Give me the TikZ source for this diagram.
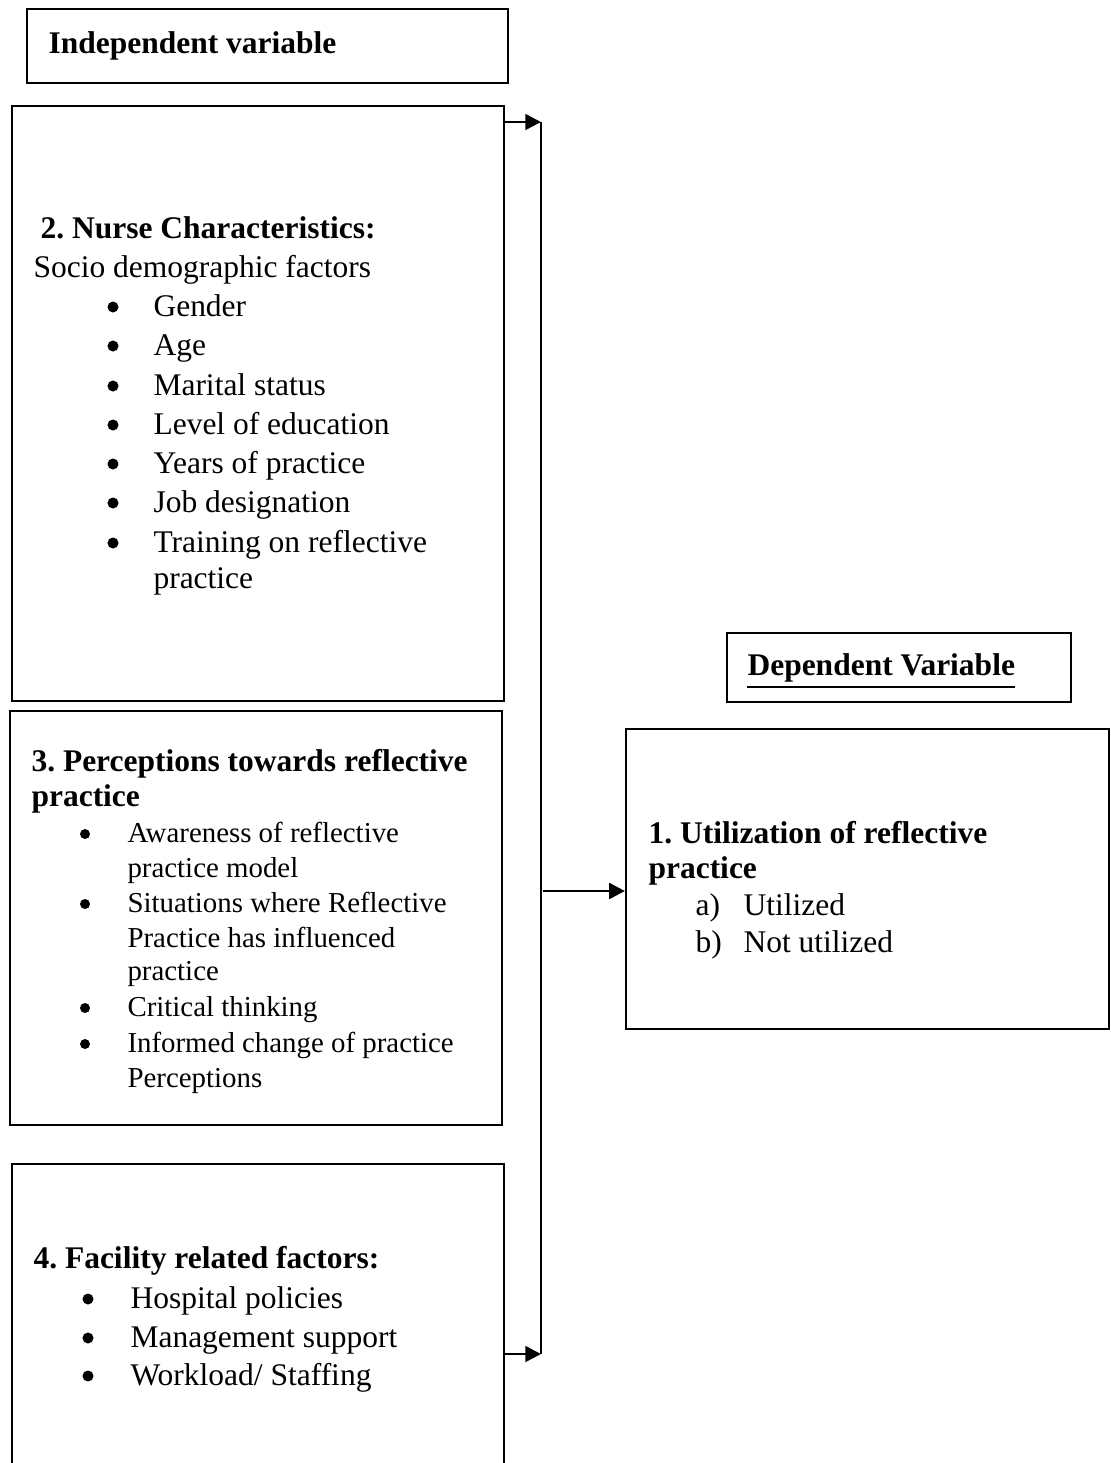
\documentclass[tikz,border=0pt]{standalone}
\usepackage{fontspec}
\setmainfont{Liberation Serif}
\usetikzlibrary{arrows.meta,fit}
\AtBeginDocument{\frenchspacing}
\begin{document}
\begin{tikzpicture}[x=0.381pt,y=-0.381pt,
  box/.style={draw=black,line width=0.8pt,rectangle,inner sep=0pt},
  txt/.style={anchor=base west,inner sep=0pt,font=\fontsize{12}{14}\selectfont},
  btxt/.style={anchor=base west,inner sep=0pt,font=\fontsize{12}{14}\selectfont\bfseries},
  stxt/.style={anchor=base west,inner sep=0pt,font=\fontsize{11}{13}\selectfont},
  bul/.style={circle,fill=black,inner sep=0pt,minimum size=4.2pt},
  sbul/.style={circle,fill=black,inner sep=0pt,minimum size=3.8pt},
  conn/.style={line width=1pt},
  arr/.style={conn,-{Triangle[length=6pt,width=6pt]}}]
\useasboundingbox (0,0) rectangle (1110,1463);
\clip (0,0) rectangle (1110,1463);

% boxes
\node[box,fit={(27,9) (508,83)}] (bind) {};
\node[box,fit={(12,106) (504,701)}] (b2) {};
\node[box,fit={(10,711) (502,1125)}] (b3) {};
\node[box,fit={(12,1164) (504,1490)}] (b4) {};
\node[box,fit={(727,633) (1071,702)}] (bdep) {};
\node[box,fit={(626,729) (1109,1029)}] (b1) {};

% independent label
\node[btxt] (tind) at (48,53) {Independent variable};

% box 2
\node[btxt] (n2h) at (40,238) {2. Nurse Characteristics:};
\node[txt] (n2s) at (33,277) {Socio demographic factors};
\foreach \y/\t [count=\i] in {316/Gender,355/Age,395/Marital status,434/Level of education,473/Years of practice,512/Job designation,552/Training on reflective}{
  \node[bul] (n2b\i) at (113,\y-9) {};
  \node[txt] (n2t\i) at (153,\y) {\t};
}
\node[txt] (n2t8) at (153,588) {practice};

% box 3
\node[btxt] (n3h) at (31,771) {3. Perceptions towards reflective};
\node[btxt] (n3h2) at (31,806) {practice};
\node[sbul] (n3b1) at (85,834) {};
\node[stxt] (n3t1) at (127,842) {Awareness of reflective};
\node[stxt] (n3t2) at (127,877) {practice model};
\node[sbul] (n3b2) at (85,904) {};
\node[stxt] (n3t3) at (127,912) {Situations where Reflective};
\node[stxt] (n3t4) at (127,947) {Practice has influenced};
\node[stxt] (n3t5) at (127,980) {practice};
\node[sbul] (n3b3) at (85,1008) {};
\node[stxt] (n3t6) at (127,1016) {Critical thinking};
\node[sbul] (n3b4) at (85,1044) {};
\node[stxt] (n3t7) at (127,1052) {Informed change of practice};
\node[stxt] (n3t8) at (127,1087) {Perceptions};

% box 4
\node[btxt] (n4h) at (33,1268) {4. Facility related factors:};
\foreach \y/\t [count=\i] in {1308/{Hospital policies},1347/{Management support},1385/{Workload/ Staffing}}{
  \node[bul] (n4b\i) at (88,\y-9) {};
  \node[txt] (n4t\i) at (130,\y) {\t};
}

% dependent label
\node[btxt] (tdep) at (747,675) {Dependent Variable};
\draw[line width=0.9pt] ([yshift=-4.5]tdep.base west) -- ([yshift=-4.5]tdep.base east);

% box 1
\node[btxt] (n1h) at (648,843) {1. Utilization of reflective};
\node[btxt] (n1h2) at (648,878) {practice};
\node[txt] (n1a) at (695,915) {a)};
\node[txt] (n1at) at (743,915) {Utilized};
\node[txt] (n1b) at (695,952) {b)};
\node[txt] (n1bt) at (743,952) {Not utilized};

% connectors
\coordinate (jt) at (541,122);
\coordinate (jb) at (541,1354);
\coordinate (jm) at (543,891);
\draw[conn] (jt) -- (jb);
\draw[arr] (b2.east |- jt) -- (jt);
\draw[arr] (b4.east |- jb) -- (jb);
\draw[arr] (jm) -- (jm -| b1.west);
\end{tikzpicture}
\end{document}
